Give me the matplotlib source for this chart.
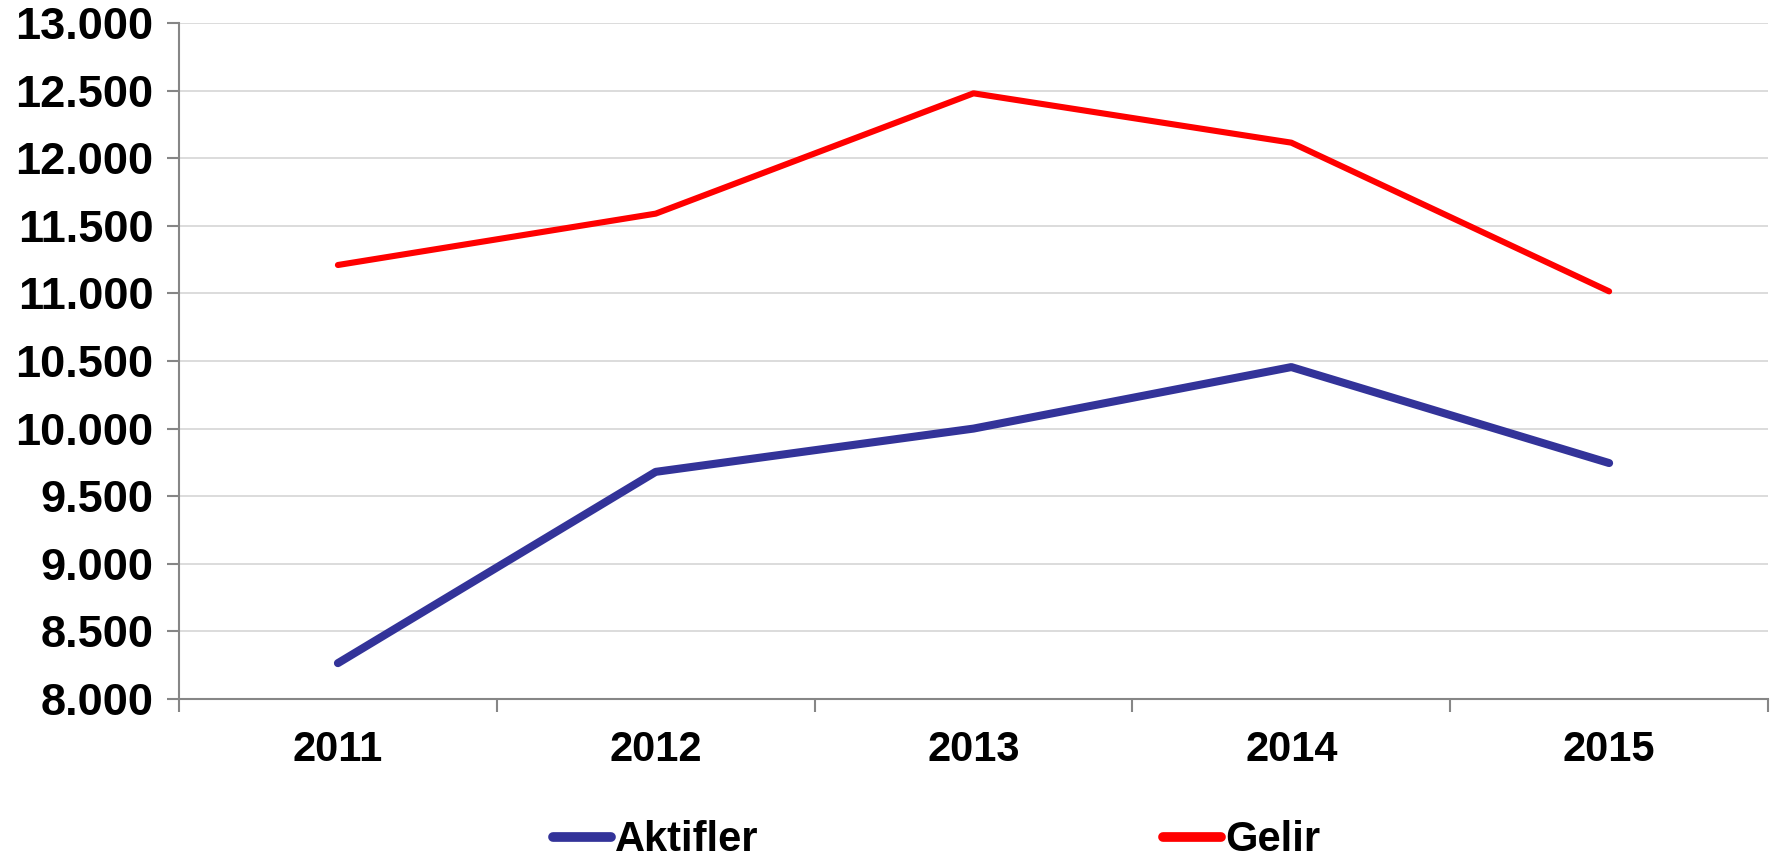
import matplotlib
matplotlib.use("Agg")
import matplotlib.pyplot as plt
from matplotlib.ticker import FuncFormatter, FixedLocator

years = ["2011", "2012", "2013", "2014", "2015"]
aktifler = [8265, 9680, 10000, 10455, 9745]
gelir = [11210, 11590, 12480, 12115, 11015]

plt.rcParams['font.family'] = ['Liberation Sans', 'DejaVu Sans']
plt.rcParams['font.weight'] = 'bold'

fig = plt.figure(figsize=(17.83, 8.59), dpi=100)
ax = fig.add_axes([0.1004, 0.1863, 0.8912, 0.7869])

x = list(range(len(years)))
ax.plot(x, aktifler, color="#333399", lw=5.8, solid_capstyle="round", label="Aktifler", zorder=3)
ax.plot(x, gelir, color="#ff0000", lw=4.4, solid_capstyle="round", label="Gelir", zorder=3)

ax.set_xlim(-0.5, len(years) - 0.5)
ax.set_ylim(8000, 13000)
ax.set_yticks(range(8000, 13001, 500))
ax.yaxis.set_major_formatter(FuncFormatter(lambda v, p: f"{int(v):,}".replace(",", ".")))
ax.yaxis.grid(True, color="#d9d9d9", lw=1.3)
ax.set_axisbelow(True)

# category labels centred, ticks on band edges
ax.xaxis.set_major_locator(FixedLocator([i - 0.5 for i in range(len(years) + 1)]))
ax.xaxis.set_major_formatter(FuncFormatter(lambda v, p: ""))
ax.xaxis.set_minor_locator(FixedLocator(x))
ax.set_xticklabels(years, minor=True)
ax.tick_params(axis="x", which="minor", length=0, pad=22, labelsize=30)
ax.tick_params(axis="x", which="major", length=9, width=1.5, color="#868686")
ax.tick_params(axis="y", length=9, width=1.5, color="#868686", pad=9.5, labelsize=32.5)
for lab in ax.get_xticklabels(minor=True) + ax.get_yticklabels():
    lab.set_fontweight("bold")

for s in ["top", "right"]:
    ax.spines[s].set_visible(False)
for s in ["left", "bottom"]:
    ax.spines[s].set_color("#868686")
    ax.spines[s].set_linewidth(1.5)

leg = fig.legend(loc="center left", bbox_to_anchor=(0.310, 0.022), ncol=2, frameon=False,
                 handlelength=1.4, handletextpad=0.1, columnspacing=9.7,
                 borderpad=0, borderaxespad=0, prop={"weight": "bold", "size": 30})
for h in leg.get_lines():
    h.set_linewidth(7)
    h.set_solid_capstyle("round")

fig.savefig("out.png", dpi=100)
